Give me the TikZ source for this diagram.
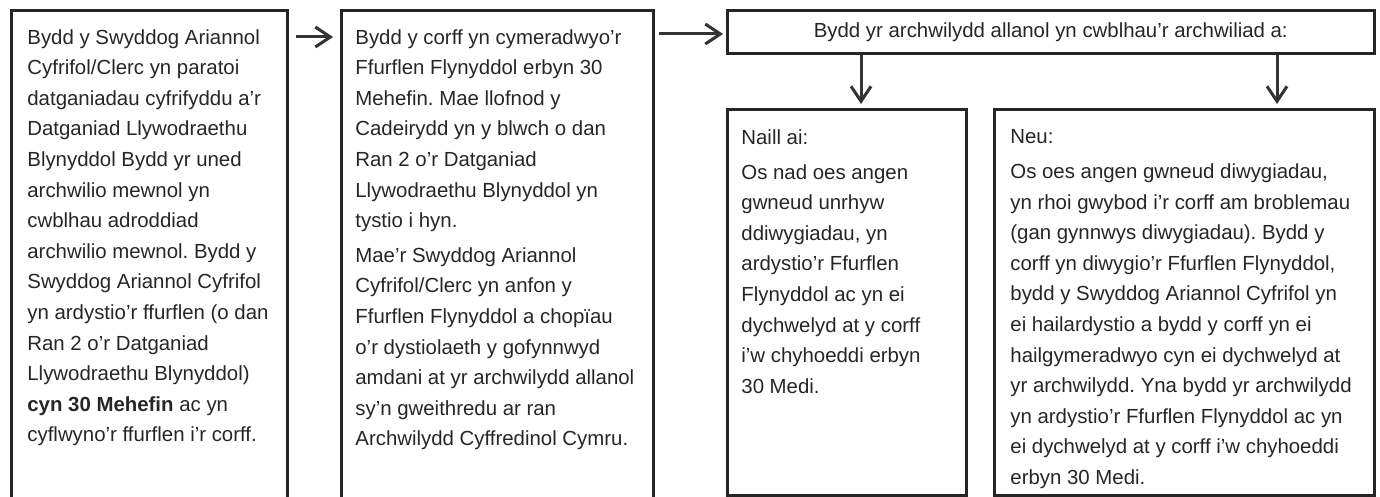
\documentclass[tikz,border=0pt]{standalone}
\usepackage{fontspec}
\setmainfont{Liberation Sans}
\usetikzlibrary{arrows.meta}
\frenchspacing

\begin{document}
\begin{tikzpicture}[x=0.5pt, y=-0.5pt,
    box/.style={draw=black!85, line width=1.3pt, inner sep=0pt, anchor=north west,
      text=black!85, font=\fontsize{10.2pt}{15.3pt}\selectfont},
    txt/.style={align=left, inner sep=0pt, anchor=north west, text=black!85,
      font=\fontsize{10.2pt}{15.3pt}\selectfont},
    arr/.style={draw=black!80, line width=1.5pt, -{Straight Barb[length=7.5pt, width=10pt]}}]
  \useasboundingbox (0,0) rectangle (1380,497);
  \clip (0,0) rectangle (1380,497);
  % boxes
  \node[box, minimum width=138pt, minimum height=251pt] (b1) at (10,9) {};
  \node[box, minimum width=156pt, minimum height=251pt] (b2) at (340,9) {};
  \node[box, minimum width=323.5pt, minimum height=21.5pt] (b3) at (726,9)
    {Bydd yr archwilydd allanol yn cwblhau’r archwiliad a:};
  \node[box, minimum width=119.5pt, minimum height=193pt] (b4) at (726,108) {};
  \node[box, minimum width=190pt, minimum height=193pt] (b5) at (993,108) {};
  % texts
  \node[txt] (t1) at ([xshift=8.5pt, yshift=-10pt]b1.north west)
    {Bydd y Swyddog Ariannol\\ Cyfrifol/Clerc yn paratoi\\ datganiadau cyfrifyddu a’r\\
     Datganiad Llywodraethu\\ Blynyddol Bydd yr uned\\ archwilio mewnol yn\\
     cwblhau adroddiad\\ archwilio mewnol. Bydd y\\ Swyddog Ariannol Cyfrifol\\
     yn ardystio’r ffurflen (o dan\\ Ran 2 o’r Datganiad\\ Llywodraethu Blynyddol)\\
     \textbf{cyn 30 Mehefin} ac yn\\ cyflwyno’r ffurflen i’r corff.};
  \node[txt] (t2) at ([xshift=7.5pt, yshift=-10pt]b2.north west)
    {Bydd y corff yn cymeradwyo’r\\ Ffurflen Flynyddol erbyn 30\\ Mehefin. Mae llofnod y\\
     Cadeirydd yn y blwch o dan\\ Ran 2 o’r Datganiad\\ Llywodraethu Blynyddol yn\\
     tystio i hyn.\\[2pt]
     Mae’r Swyddog Ariannol\\ Cyfrifol/Clerc yn anfon y\\ Ffurflen Flynyddol a chopïau\\
     o’r dystiolaeth y gofynnwyd\\ amdani at yr archwilydd allanol\\ sy’n gweithredu ar ran\\
     Archwilydd Cyffredinol Cymru.};
  \node[txt] (t4) at ([xshift=7.5pt, yshift=-10.5pt]b4.north west)
    {Naill ai:\\[2.2pt]
     Os nad oes angen\\ gwneud unrhyw\\ ddiwygiadau, yn\\ ardystio’r Ffurflen\\
     Flynyddol ac yn ei\\ dychwelyd at y corff\\ i’w chyhoeddi erbyn\\ 30 Medi.};
  \node[txt] (t5) at ([xshift=8.5pt, yshift=-10.5pt]b5.north west)
    {Neu:\\[2.2pt]
     Os oes angen gwneud diwygiadau,\\ yn rhoi gwybod i’r corff am broblemau\\
     (gan gynnwys diwygiadau). Bydd y\\ corff yn diwygio’r Ffurflen Flynyddol,\\
     bydd y Swyddog Ariannol Cyfrifol yn\\ ei hailardystio a bydd y corff yn ei\\
     hailgymeradwyo cyn ei dychwelyd at\\ yr archwilydd. Yna bydd yr archwilydd\\
     yn ardystio’r Ffurflen Flynyddol ac yn\\ ei dychwelyd at y corff i’w chyhoeddi\\
     erbyn 30 Medi.};
  % arrows
  \coordinate (d1) at (861,0);
  \coordinate (d2) at (1277,0);
  \draw[arr, shorten <=3.5pt, shorten >=3.5pt] ([yshift=-14pt]b1.north east) -- ([yshift=-14pt]b2.north west);
  \draw[arr, shorten <=2pt, shorten >=1.5pt] ([yshift=-12.5pt]b2.north east) -- ([yshift=-12.5pt]b3.north west);
  \draw[arr, shorten >=2pt] (b3.south -| d1) -- (b4.north -| d1);
  \draw[arr, shorten >=2pt] (b3.south -| d2) -- (b5.north -| d2);
\end{tikzpicture}
\end{document}
